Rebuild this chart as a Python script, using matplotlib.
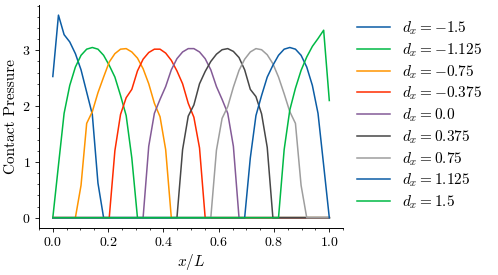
import numpy as np
import matplotlib
matplotlib.use('Agg')
import matplotlib.pyplot as plt
from matplotlib.ticker import AutoMinorLocator, MultipleLocator

plt.rcParams['font.family'] = 'serif'
plt.rcParams['font.serif'] = ['cmr10']
plt.rcParams['mathtext.fontset'] = 'cm'
plt.rcParams['axes.formatter.use_mathtext'] = True
plt.rcParams['font.size'] = 10


# grid of 50 nodes on x/L
x = np.linspace(0, 1, 50)

dx_values = [-1.5, -1.125, -0.75, -0.375, 0.0, 0.375, 0.75, 1.125, 1.5]

# first node of each contact patch and the pressure read from there on
starts = [0, 0, 4, 10, 16, 22, 28, 34, 40]

p_m1500 = [2.53, 3.63, 3.28, 3.15, 2.94, 2.65, 2.25, 1.85, 0.62, 0]
p_m1125 = [0, 0.94, 1.87, 2.37, 2.70, 2.91, 3.02, 3.05, 3.02, 2.91, 2.73, 2.52,
           2.19, 1.83, 1.07, 0]
p_m0750 = [0, 0.58, 1.69, 1.90, 2.24, 2.52, 2.79, 2.94, 3.02, 3.03, 2.97, 2.86,
           2.67, 2.40, 2.05, 1.81, 1.22, 0]
p_m0375 = [0, 1.20, 1.85, 2.15, 2.30, 2.63, 2.84, 2.96, 3.02, 3.02, 2.95, 2.82,
           2.63, 2.40, 2.05, 1.80, 1.25, 0]
p_0000 = [0, 1.28, 1.87, 2.12, 2.35, 2.65, 2.85, 2.97, 3.03, 3.03, 2.97, 2.85,
          2.65, 2.35, 2.12, 1.87, 1.28, 0]
p_0375 = [0, 1.22, 1.82, 2.02, 2.40, 2.62, 2.80, 2.93, 3.01, 3.03, 2.98, 2.87,
          2.65, 2.30, 2.17, 1.86, 1.26, 0]
p_0750 = [0, 1.21, 1.78, 1.99, 2.34, 2.64, 2.84, 2.97, 3.03, 3.01, 2.92, 2.76,
          2.52, 2.22, 1.90, 1.69, 0.58, 0]
p_1125 = [0, 1.07, 1.83, 2.19, 2.52, 2.73, 2.91, 3.02, 3.05, 3.02, 2.91, 2.70,
          2.37, 1.87, 0.94, 0]
p_1500 = [0, 1.22, 1.93, 2.32, 2.64, 2.88, 3.07, 3.21, 3.36, 2.10]

patches = [p_m1500, p_m1125, p_m0750, p_m0375, p_0000, p_0375, p_0750,
           p_1125, p_1500]

colors = ['#0C5DA5', '#00B945', '#FF9500', '#FF2C00', '#845B97', '#474747',
          '#9e9e9e', '#0C5DA5', '#00B945']


fig = plt.figure(figsize=(4.98, 2.75), dpi=100)
ax = fig.add_axes([0.0783, 0.1716, 0.6107, 0.8102])

for d, s, vals, c in zip(dx_values, starts, patches, colors):
    p = np.zeros(len(x))
    p[s:s + len(vals)] = vals
    ax.plot(x, p, color=c, lw=1.1, label=r'$d_x = %s$' % d)

ax.spines['top'].set_visible(False)
ax.spines['right'].set_visible(False)
for sp in ['left', 'bottom']:
    ax.spines[sp].set_linewidth(0.7)

ax.xaxis.set_major_locator(MultipleLocator(0.2))
ax.yaxis.set_major_locator(MultipleLocator(1))
ax.xaxis.set_minor_locator(AutoMinorLocator(4))
ax.yaxis.set_minor_locator(AutoMinorLocator(5))
ax.tick_params(which='major', direction='out', length=3, width=0.6, pad=3)
ax.tick_params(which='minor', direction='out', length=1.6, width=0.5)
ax.tick_params(labelsize=10)

ax.set_xlabel(r'$x/L$', fontsize=11, labelpad=2)
ax.set_ylabel('Contact Pressure', fontsize=11, labelpad=3)

ax.legend(loc='upper left', bbox_to_anchor=(1.026, 0.962), borderaxespad=0,
          frameon=False, handlelength=2.15, handletextpad=0.77,
          labelspacing=0.27, fontsize=11)

fig.savefig('out.png', dpi=100)
